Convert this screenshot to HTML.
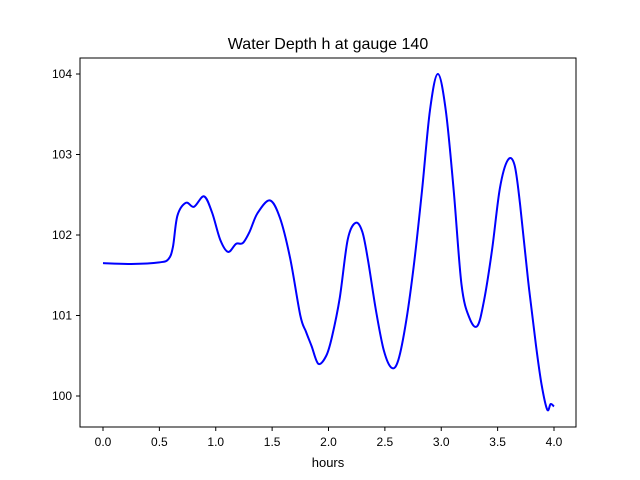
<!DOCTYPE html>
<html><head><meta charset="utf-8"><style>
body{margin:0;background:#fff;}
svg{display:block;font-family:"Liberation Sans","DejaVu Sans",sans-serif;}
</style></head><body>
<svg width="640" height="480">
<rect width="640" height="480" fill="#fff"/>
<text x="328" y="49" text-anchor="middle" font-size="16">Water Depth h at gauge 140</text>
<g id="ticks"></g>
<path id="line" fill="none" stroke="#0000ff" stroke-width="2"/>
<rect x="80" y="58" width="496" height="369" fill="none" stroke="#000" stroke-width="1"/>
<text x="328" y="467" text-anchor="middle" font-size="13">hours</text>
</svg>
<script>
const times=[0,0.25,0.5,0.58,0.62,0.66,0.736,0.807,0.896,0.967,1.04,1.11,1.18,1.24,1.30,1.37,1.48,1.57,1.66,1.75,1.80,1.85,1.91,1.98,2.03,2.10,2.17,2.24,2.30,2.35,2.42,2.49,2.56,2.62,2.69,2.76,2.83,2.90,2.97,3.04,3.11,3.18,3.25,3.32,3.38,3.45,3.52,3.59,3.65,3.70,3.77,3.84,3.89,3.94,3.97,4.0];
const depth=[101.65,101.64,101.66,101.70,101.85,102.24,102.40,102.35,102.48,102.28,101.94,101.79,101.89,101.90,102.04,102.27,102.43,102.21,101.71,101.00,100.80,100.62,100.40,100.50,100.73,101.22,101.94,102.15,102.04,101.69,101.07,100.57,100.35,100.45,100.94,101.66,102.56,103.55,104.0,103.55,102.56,101.38,100.97,100.87,101.19,101.81,102.58,102.93,102.87,102.37,101.44,100.63,100.14,99.83,99.90,99.87];
const xTicks=[0,0.5,1,1.5,2,2.5,3,3.5,4];
const xTickLabels=["0.0","0.5","1.0","1.5","2.0","2.5","3.0","3.5","4.0"];
const yTicks=[100,101,102,103,104];
const yTickLabels=["100","101","102","103","104"];
const X=t=>103+t*112.75;
const Y=h=>396-(h-100)*80.5;
const NS="http://www.w3.org/2000/svg";
const g=document.getElementById('ticks');
function mk(tag,attrs){const e=document.createElementNS(NS,tag);for(const k in attrs)e.setAttribute(k,attrs[k]);g.appendChild(e);return e;}
xTicks.forEach((v,i)=>{
 const l=mk('line',{x1:X(v),x2:X(v),y1:427,y2:431,stroke:'#000'});
 
 
 const t=mk('text',{x:X(v),y:446,'text-anchor':'middle','font-size':12});
 t.textContent=xTickLabels[i];
 
 
});
yTicks.forEach((v,i)=>{
 const l=mk('line',{x1:76,x2:80,y1:Y(v),y2:Y(v),stroke:'#000'});
 
 
 const t=mk('text',{x:72,y:Y(v)+4,'text-anchor':'end','font-size':12});
 t.textContent=yTickLabels[i];
 
 
});
const p=times.map((t,i)=>[X(t),Y(depth[i])]);
let d='M'+p[0][0]+','+p[0][1];
for(let i=0;i<p.length-1;i++){
 const p0=p[Math.max(i-1,0)],p1=p[i],p2=p[i+1],p3=p[Math.min(i+2,p.length-1)];
 const c1=[p1[0]+(p2[0]-p0[0])/6,p1[1]+(p2[1]-p0[1])/6];
 const c2=[p2[0]-(p3[0]-p1[0])/6,p2[1]-(p3[1]-p1[1])/6];
 d+=' C'+c1+' '+c2+' '+p2;
}
document.getElementById('line').setAttribute('d',d);
</script>
</body></html>
